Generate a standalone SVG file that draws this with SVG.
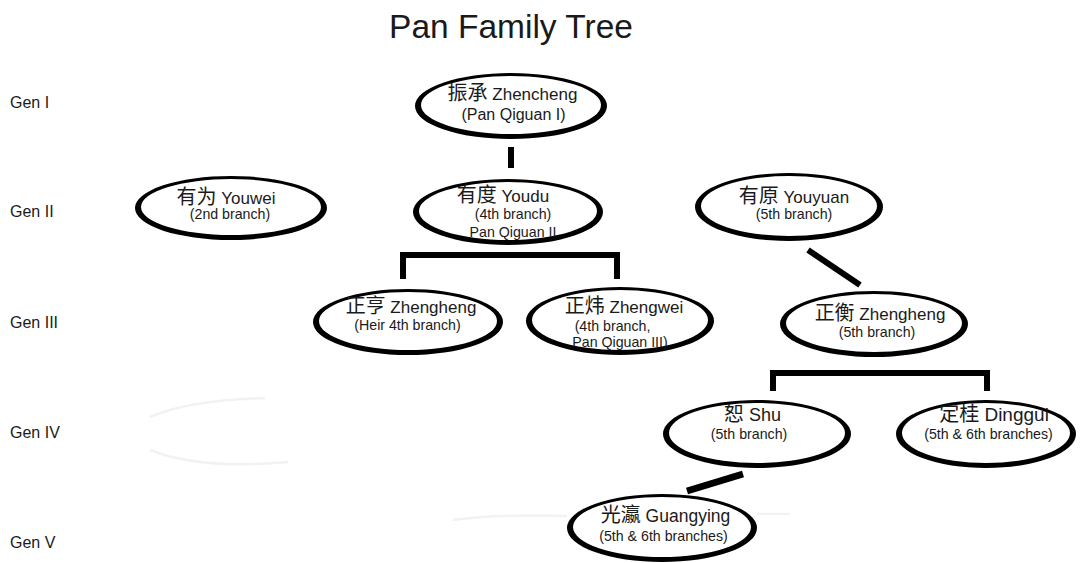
<svg xmlns="http://www.w3.org/2000/svg" width="1080" height="563" viewBox="0 0 1080 563">
<style>
text{font-family:"Liberation Sans","Noto Sans CJK SC",sans-serif;fill:#1a1a1a}
.title{font-size:33.5px}
.gen{font-size:16px}
.n1{font-size:17px;text-anchor:middle}
.cjk{font-family:"Noto Sans CJK SC",sans-serif;font-size:20px}
.n2{font-size:14.2px;text-anchor:middle}
.ring{fill:#000;fill-rule:evenodd}
.conn{stroke:#000;stroke-width:6;fill:none;stroke-linecap:butt;stroke-linejoin:miter}
.ghost{stroke:#f2f2f2;stroke-width:2.5;fill:none}
</style>
<rect width="1080" height="563" fill="#fff"/>
<g id="ghosts">
<path class="ghost" d="M150 417 Q190 400 265 398"/>
<path class="ghost" d="M150 450 Q200 470 288 462"/>
<path class="ghost" d="M453 520 Q500 514 567 516"/>
<path class="ghost" d="M757 514 L790 514"/>
</g>
<text class="title" x="511" y="38" text-anchor="middle">Pan Family Tree</text>
<g id="gen-labels">
<text class="gen" x="10" y="108">Gen I</text>
<text class="gen" x="10" y="217">Gen II</text>
<text class="gen" x="10" y="328">Gen III</text>
<text class="gen" x="10" y="438">Gen IV</text>
<text class="gen" x="10" y="548">Gen V</text>
</g>
<g id="connectors">
<path class="conn" d="M511 147 V168"/>
<path class="conn" d="M403 279 V255 H617 V279"/>
<path class="conn" d="M808 250 L860 285"/>
<path class="conn" d="M773 391 V373 H987 V391"/>
<path class="conn" style="stroke-width:7" d="M687 491 L743 474"/>
</g>
<g id="zhencheng">
<path class="ring" d="M415 106 A96 33 0 1 0 607 106 A96 33 0 1 0 415 106 Z M421 105 A90 29 0 1 0 601 105 A90 29 0 1 0 421 105 Z"/>
<text class="n1" x="512.5" y="100"><tspan class="cjk">振承</tspan> Zhencheng</text>
<text class="n2" x="513.5" y="120" style="font-size:16px">(Pan Qiguan I)</text>
</g>
<g id="youwei">
<path class="ring" d="M135 208 A96 32 0 1 0 327 208 A96 32 0 1 0 135 208 Z M141 207 A90 28 0 1 0 321 207 A90 28 0 1 0 141 207 Z"/>
<text class="n1" x="226" y="204"><tspan class="cjk">有为</tspan> Youwei</text>
<text class="n2" x="230" y="219">(2nd branch)</text>
</g>
<g id="youdu">
<path class="ring" d="M413 212 A95 33 0 1 0 603 212 A95 33 0 1 0 413 212 Z M419 211 A89 29 0 1 0 597 211 A89 29 0 1 0 419 211 Z"/>
<text class="n1" x="503" y="202"><tspan class="cjk">有度</tspan> Youdu</text>
<text class="n2" x="513" y="219">(4th branch)</text>
<text class="n2" x="513" y="237">Pan Qiguan II</text>
</g>
<g id="youyuan">
<path class="ring" d="M695 207 A94 34 0 1 0 883 207 A94 34 0 1 0 695 207 Z M701 206 A88 30 0 1 0 877 206 A88 30 0 1 0 701 206 Z"/>
<text class="n1" x="794" y="203"><tspan class="cjk">有原</tspan> Youyuan</text>
<text class="n2" x="794" y="219">(5th branch)</text>
</g>
<g id="zhengheng-heir">
<path class="ring" d="M313 322 A95 33 0 1 0 503 322 A95 33 0 1 0 313 322 Z M319 321 A89 29 0 1 0 497 321 A89 29 0 1 0 319 321 Z"/>
<text class="n1" x="411" y="313"><tspan class="cjk">正亨</tspan> Zhengheng</text>
<text class="n2" x="407.5" y="330">(Heir 4th branch)</text>
</g>
<g id="zhengwei">
<path class="ring" d="M526 321 A94 34 0 1 0 714 321 A94 34 0 1 0 526 321 Z M532 320 A88 30 0 1 0 708 320 A88 30 0 1 0 532 320 Z"/>
<text class="n1" x="624" y="313"><tspan class="cjk">正炜</tspan> Zhengwei</text>
<text class="n2" x="612.5" y="331">(4th branch,</text>
<text class="n2" x="620" y="347">Pan Qiguan III)</text>
</g>
<g id="zhengheng-5th">
<path class="ring" d="M780 324 A94 33 0 1 0 968 324 A94 33 0 1 0 780 324 Z M786 323 A88 29 0 1 0 962 323 A88 29 0 1 0 786 323 Z"/>
<text class="n1" x="880" y="320"><tspan class="cjk">正衡</tspan> Zhengheng</text>
<text class="n2" x="877" y="337">(5th branch)</text>
</g>
<g id="shu">
<path class="ring" d="M663 434 A94 34 0 1 0 851 434 A94 34 0 1 0 663 434 Z M669 433 A88 30 0 1 0 845 433 A88 30 0 1 0 669 433 Z"/>
<text class="n1" x="752.5" y="421" style="font-size:18px"><tspan class="cjk">恕</tspan> Shu</text>
<text class="n2" x="749" y="439">(5th branch)</text>
</g>
<g id="dinggui">
<path class="ring" d="M896 434 A90 34 0 1 0 1076 434 A90 34 0 1 0 896 434 Z M902 433 A84 30 0 1 0 1070 433 A84 30 0 1 0 902 433 Z"/>
<text class="n1" x="994" y="421" style="font-size:19px"><tspan class="cjk">定桂</tspan> Dinggui</text>
<text class="n2" x="988.5" y="439">(5th &amp; 6th branches)</text>
</g>
<g id="guangying">
<path class="ring" d="M567 528 A95 34 0 1 0 757 528 A95 34 0 1 0 567 528 Z M573 527 A89 30 0 1 0 751 527 A89 30 0 1 0 573 527 Z"/>
<text class="n1" x="665.5" y="522" style="font-size:17.5px"><tspan class="cjk">光瀛</tspan> Guangying</text>
<text class="n2" x="663.5" y="541">(5th &amp; 6th branches)</text>
</g>
</svg>
